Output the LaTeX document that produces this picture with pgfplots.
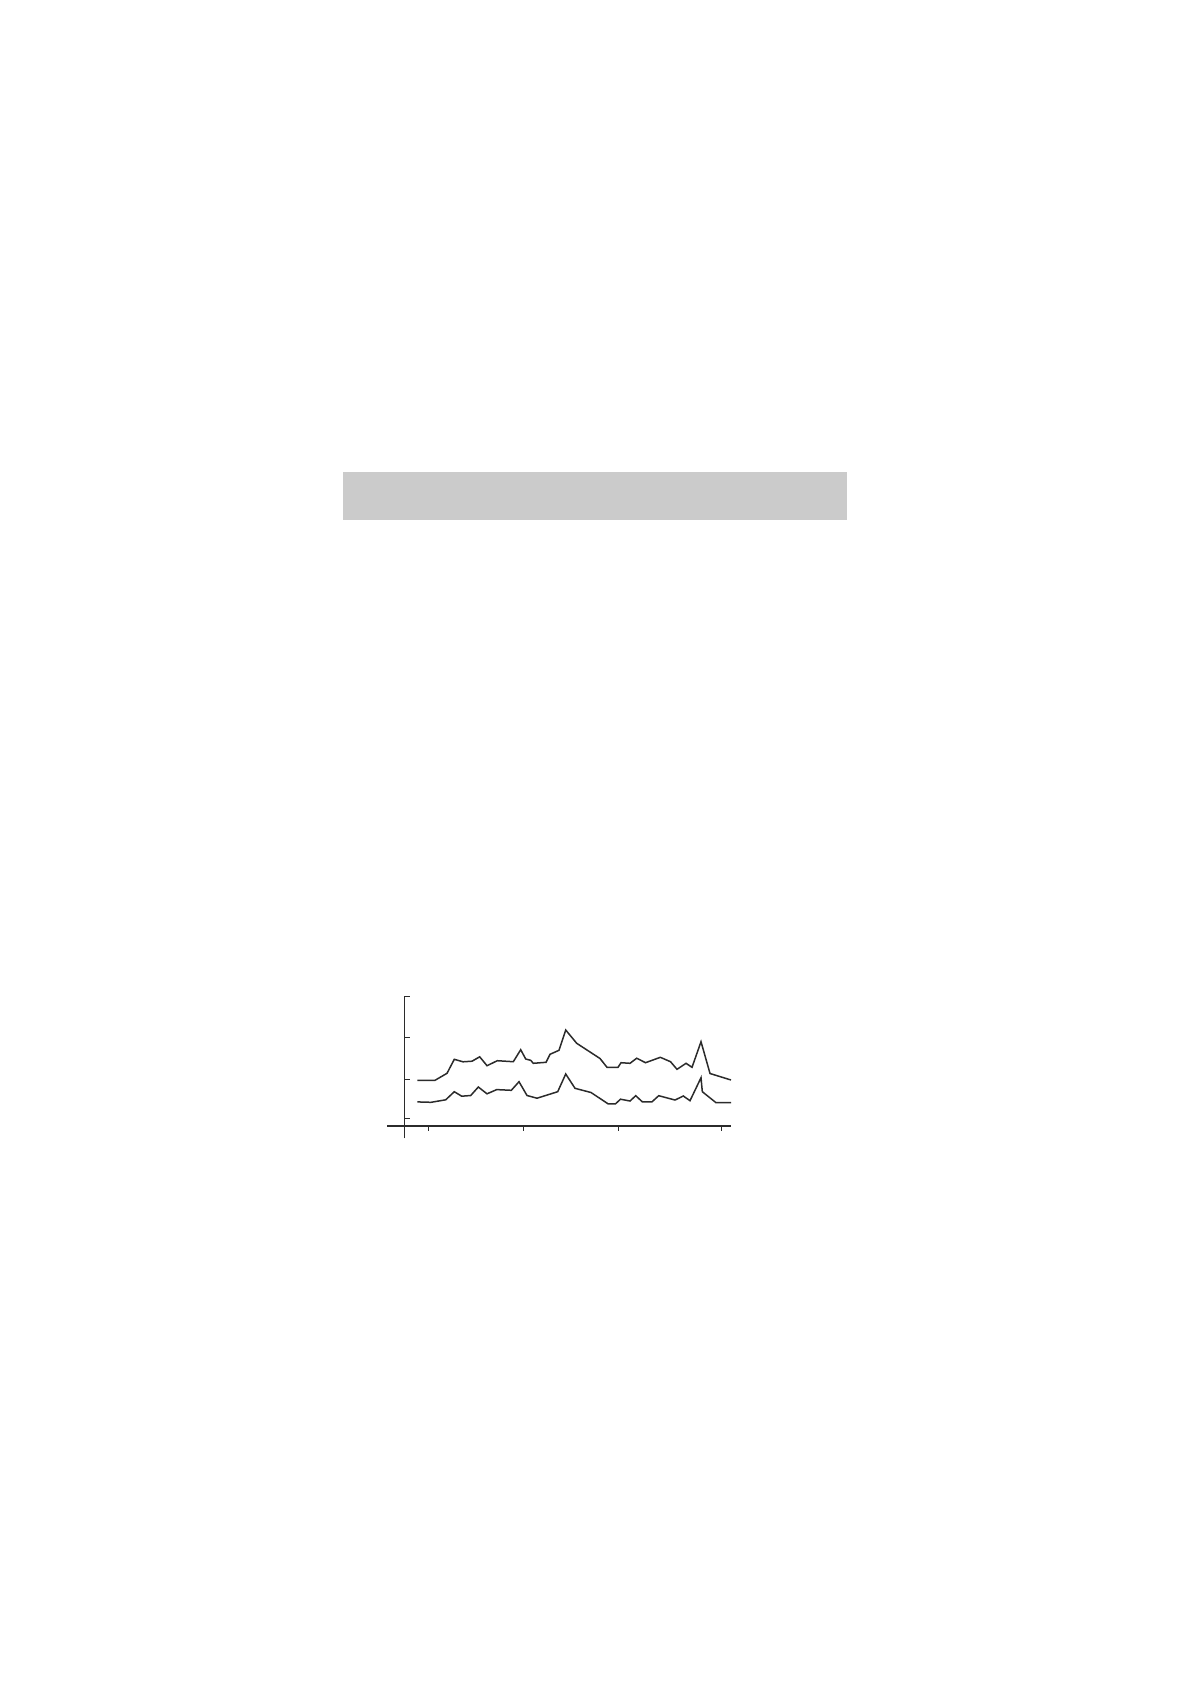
\documentclass[border=0pt]{standalone}
\usepackage{pgfplots}
\pgfplotsset{compat=1.18}
\definecolor{bargrey}{HTML}{CBCBCB}
\definecolor{ink}{HTML}{2B2B2B}
\begin{document}
\begin{tikzpicture}
% full page, 1 px of the reference = 0.5pt
\path[use as bounding box] (0pt,0pt) rectangle (595pt,-842pt);
\fill[bargrey] (171.5pt,-236pt) rectangle (423.5pt,-260pt);

\begin{axis}[%
at={(202.25pt,-563pt)},
anchor=origin,
width=172pt,
height=71pt,
scale only axis,
clip=false,
enlargelimits=false,
xmin=-17.5,
xmax=326.5,
ymin=-12.3,
ymax=129.7,
axis x line*=middle,
axis y line*=middle,
axis line style={ink, line width=0.7pt},
xtick={23.8,118.8,213.8,316.8},
ytick={7.7,46.7,88.7,129.7},
xticklabels={},
yticklabels={},
tick align=inside,
major tick length=2.5pt,
tick style={ink, line width=0.7pt},
xtick style={yshift=-2.4pt},
]
\addplot [
color=ink,
line width=0.75pt,
forget plot
]
table[row sep=crcr]{
12.8 45.7\\
30.5 45.7\\
42.5 52.7\\
49.8 66.7\\
58.5 64.2\\
67.5 64.8\\
75.2 69.2\\
82.5 60.3\\
92.8 65.3\\
108.8 64.3\\
116.2 76.3\\
121.2 67\\
126.2 65.7\\
128.8 62.7\\
141.5 63.7\\
145.5 71.7\\
154.5 75.7\\
161.2 96\\
172.2 82.7\\
195.5 67.5\\
202.5 58.7\\
213.5 58.7\\
216.5 63.3\\
225.5 62.7\\
232.2 67.8\\
241 63.3\\
255.8 68.7\\
266 64.3\\
272.5 56.7\\
281.5 62.7\\
287.5 58.7\\
296.5 84.3\\
305.5 52.5\\
326.5 46\\
};
\addplot [
color=ink,
line width=0.75pt,
forget plot
]
table[row sep=crcr]{
12.8 24.1\\
26.5 23.7\\
41.2 26.2\\
49.8 34.3\\
57.2 29.8\\
66.2 30.5\\
73.8 39\\
82.5 32.2\\
92.2 36.4\\
106.8 35.7\\
114.5 44.3\\
122.5 30.5\\
132.5 27.8\\
153.2 34.3\\
161.2 52\\
170.5 37.7\\
186.5 33.5\\
203.5 22.2\\
211 22.2\\
216 26.8\\
225.5 25\\
231.2 30.3\\
237.8 24.2\\
247.5 24.2\\
254.2 30.3\\
270.5 26\\
278.8 30\\
285.5 25.3\\
296.5 48.3\\
297.8 34.3\\
311.5 23.3\\
326.5 23.3\\
};
\end{axis}
\end{tikzpicture}
\end{document}
